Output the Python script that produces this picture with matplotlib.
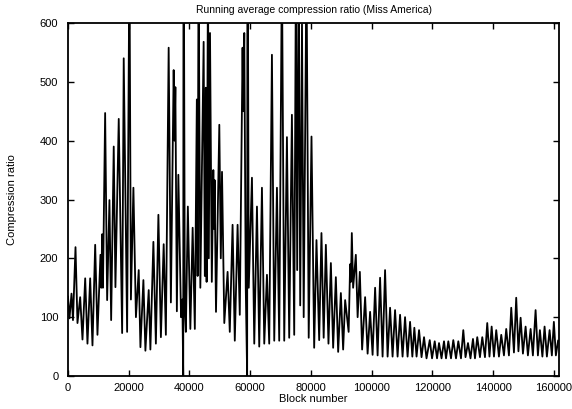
import matplotlib
matplotlib.use('Agg')
import matplotlib.pyplot as plt

# Block number (x) and running-average compression ratio (y)
block = [0, 490, 1150, 1640, 2470, 3120, 4010, 4770, 5660, 6410, 7300, 8060, 8950, 9700,
         10690, 10950, 11250, 11510, 12230, 12890, 13650, 14210, 15060, 15620, 16710, 17830,
         18350, 19470, 20230, 20720, 21540, 22370, 23290, 23850, 24830, 25490, 26580, 27130,
         28120, 28940, 29770, 30590, 31510, 32230, 33150, 33880, 34800, 35090, 35360, 35850,
         36340, 37230, 37660, 37950, 38050, 38480, 38810, 39470, 40290, 41050, 41770, 42430,
         42690, 42990, 43580, 44670, 45060, 45390, 45650, 46110, 46370, 46770, 47360, 47860,
         48090, 48280, 48740, 49830, 50320, 50720, 51470, 52560, 53280, 54200, 54930, 55850,
         56570, 57490, 57720, 58050, 58540, 59000, 59100, 59530, 60580, 61340, 62230, 62980,
         63870, 64630, 65520, 66270, 67160, 67920, 68810, 69560, 70450, 71210, 72100, 72850,
         73740, 74500, 75060, 75480, 75980, 76470, 77060, 77620, 78540, 79270, 80190, 81070,
         81830, 82720, 83470, 84200, 84920, 85780, 86570, 87320, 88210, 88970, 89860, 90610,
         91270, 92420, 92920, 93180, 93470, 93900, 94790, 95380, 96110, 96860, 97850, 98670,
         99490, 100310, 101140, 101960, 102780, 103600, 104420, 105250, 106070, 106890, 107710,
         108540, 109360, 110180, 111000, 111830, 112650, 113400, 114060, 114790, 115610, 116430,
         117250, 118070, 119130, 119890, 120770, 121530, 122190, 123010, 123830, 124490, 125250,
         126130, 126890, 127780, 128540, 129420, 130180, 130910, 131730, 132550, 133370, 134030,
         134780, 135670, 136430, 137320, 138070, 138800, 139520, 140280, 141030, 141920, 142680,
         143570, 144320, 145210, 145970, 146860, 147610, 148340, 149060, 149820, 150700, 151460,
         152350, 153100, 153990, 154750, 155410, 156230, 156950, 157710, 158600, 159350, 160010,
         160670, 161400]
ratio = [135, 98, 140, 95, 219, 90, 134, 62, 166, 55, 166, 52, 223, 70,
         206, 150, 241, 150, 447, 129, 299, 95, 390, 151, 437, 73,
         540, 75, 720, 130, 320, 100, 180, 49, 163, 43, 146, 45,
         228, 55, 274, 66, 224, 70, 558, 125, 520, 400, 491, 110,
         342, 100, 130, 0, 900, 110, 75, 288, 80, 252, 80, 470,
         170, 700, 150, 568, 170, 490, 160, 700, 200, 583, 160, 350,
         250, 333, 109, 427, 200, 347, 90, 177, 75, 257, 60, 257,
         104, 558, 450, 583, 150, 0, 900, 150, 337, 55, 288, 50,
         320, 55, 172, 55, 546, 60, 320, 60, 700, 60, 406, 65,
         444, 70, 700, 180, 700, 120, 598, 100, 700, 65, 407, 48,
         231, 61, 243, 65, 223, 55, 192, 48, 168, 41, 141, 45,
         129, 75, 190, 160, 243, 150, 206, 100, 177, 45, 134, 38,
         109, 36, 150, 35, 167, 33, 180, 33, 116, 33, 112,
         33, 104, 33, 100, 33, 92, 33, 82, 33, 78, 32,
         66, 30, 61, 30, 59, 30, 56, 30, 59, 30, 59,
         30, 61, 30, 59, 30, 78, 32, 56, 30, 63, 30,
         66, 32, 66, 32, 90, 33, 84, 33, 78, 33, 70,
         35, 80, 35, 116, 40, 133, 42, 99, 38, 84, 35,
         80, 35, 112, 35, 78, 33, 84, 33, 78, 35, 92,
         35, 60]

x_ticks = [0, 20000, 40000, 60000, 80000, 100000, 120000, 140000, 160000]
y_ticks = [0, 100, 200, 300, 400, 500, 600]

plt.rcParams['font.family'] = ['Liberation Sans', 'DejaVu Sans']

W, H = 572, 409
fig = plt.figure(figsize=(W / 100, H / 100), dpi=100)
ax = fig.add_axes([68 / W, 1 - 376 / H, (559 - 68) / W, (376 - 23) / H])
ax.plot(block, ratio, color='black', lw=1.3)
ax.set_xlim(0, 161700)
ax.set_ylim(0, 600)
ax.set_xticks(x_ticks)
ax.set_xticklabels([str(t) for t in x_ticks])
ax.set_yticks(y_ticks)
ax.set_yticklabels([str(t) for t in y_ticks])
ax.tick_params(direction='in', top=True, right=True, length=4, width=1,
               labelsize=8, colors='black')
ax.tick_params(axis='x', pad=5)
ax.tick_params(axis='y', pad=7)
for s in ax.spines.values():
    s.set_linewidth(1.3)
    s.set_color('black')

fig.text(313.5 / W, 1 - 10 / H, 'Running average compression ratio (Miss America)',
         ha='center', va='center', fontsize=7.5)
fig.text(313.5 / W, 1 - 399 / H, 'Block number', ha='center', va='center', fontsize=8)
fig.text(12 / W, 1 - 200 / H, 'Compression ratio', ha='center', va='center',
         rotation=90, fontsize=8)

fig.savefig('out.png', dpi=100)
